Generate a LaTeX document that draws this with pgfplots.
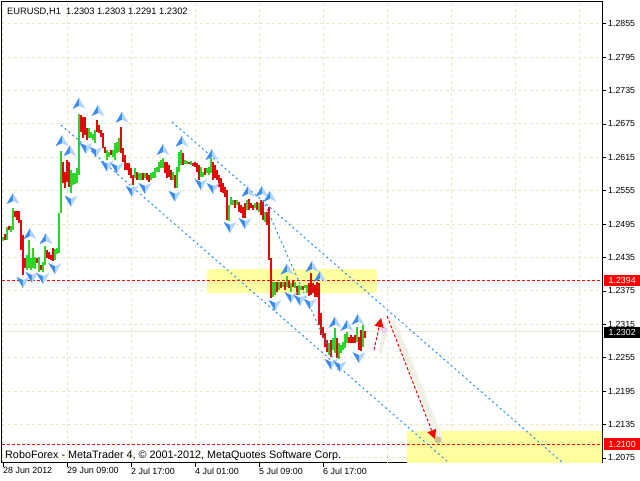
\documentclass[border=0pt]{standalone}
\usepackage{fontspec}
\setmainfont{Liberation Sans}
\usepackage{pgfplots}
\pgfplotsset{compat=1.18}
\usepackage{pgfplotstable}
\usetikzlibrary{arrows.meta}
\definecolor{barG}{RGB}{40,215,40}
\definecolor{barR}{RGB}{225,10,10}
\definecolor{gridc}{RGB}{232,232,195}
\definecolor{ybox}{RGB}{255,255,160}
\definecolor{chan}{RGB}{30,144,255}
\definecolor{fdark}{RGB}{60,140,240}
\definecolor{flight}{RGB}{175,212,255}
\definecolor{bidc}{RGB}{232,232,215}
\definecolor{shad}{RGB}{240,240,228}

\pgfdeclareplotmark{fup}{%
  \pgfsetfillcolor{fdark}%
  \pgfpathmoveto{\pgfqpoint{0pt}{6pt}}%
  \pgfpathlineto{\pgfqpoint{-6.5pt}{-5pt}}%
  \pgfpathlineto{\pgfqpoint{0pt}{-2pt}}%
  \pgfpathclose\pgfusepathqfill
  \pgfsetfillcolor{flight}%
  \pgfpathmoveto{\pgfqpoint{0pt}{6pt}}%
  \pgfpathlineto{\pgfqpoint{6.5pt}{-5pt}}%
  \pgfpathlineto{\pgfqpoint{0pt}{-2pt}}%
  \pgfpathclose\pgfusepathqfill}
\pgfdeclareplotmark{fdn}{%
  \pgfsetfillcolor{fdark}%
  \pgfpathmoveto{\pgfqpoint{0pt}{-6pt}}%
  \pgfpathlineto{\pgfqpoint{-6.5pt}{5pt}}%
  \pgfpathlineto{\pgfqpoint{0pt}{2pt}}%
  \pgfpathclose\pgfusepathqfill
  \pgfsetfillcolor{flight}%
  \pgfpathmoveto{\pgfqpoint{0pt}{-6pt}}%
  \pgfpathlineto{\pgfqpoint{6.5pt}{5pt}}%
  \pgfpathlineto{\pgfqpoint{0pt}{2pt}}%
  \pgfpathclose\pgfusepathqfill}

% up (green) bars: index, low, high
\pgfplotstableread{
x l h
0 1.2465 1.2472
2 1.2467 1.2490
4 1.2481 1.2492
5 1.2485 1.2524
12 1.2413 1.2440
13 1.2417 1.2467
14 1.2413 1.2435
15 1.2417 1.2453
16 1.2415 1.2436
18 1.2409 1.2436
20 1.2409 1.2427
21 1.2422 1.2456
26 1.2431 1.2451
27 1.2442 1.2453
28 1.2444 1.2515
29 1.2515 1.2626
34 1.2551 1.2592
35 1.2565 1.2587
36 1.2567 1.2587
37 1.2569 1.2596
38 1.2583 1.2693
43 1.2650 1.2668
44 1.2650 1.2661
45 1.2646 1.2657
46 1.2641 1.2664
52 1.2610 1.2628
53 1.2616 1.2625
55 1.2616 1.2628
56 1.2610 1.2641
57 1.2623 1.2643
58 1.2625 1.2650
66 1.2578 1.2596
68 1.2574 1.2587
69 1.2574 1.2587
71 1.2578 1.2587
74 1.2574 1.2587
75 1.2578 1.2588
76 1.2578 1.2596
77 1.2588 1.2597
78 1.2588 1.2606
79 1.2596 1.2610
80 1.2596 1.2614
85 1.2574 1.2588
87 1.2560 1.2597
88 1.2588 1.2625
89 1.2601 1.2628
91 1.2603 1.2610
92 1.2603 1.2608
94 1.2601 1.2608
99 1.2580 1.2597
100 1.2580 1.2588
102 1.2587 1.2596
103 1.2583 1.2597
104 1.2587 1.2614
113 1.2500 1.2529
114 1.2529 1.2544
115 1.2529 1.2538
117 1.2529 1.2538
122 1.2520 1.2538
126 1.2524 1.2533
128 1.2517 1.2533
131 1.2499 1.2517
135 1.2364 1.2391
136 1.2368 1.2391
138 1.2377 1.2391
140 1.2382 1.2391
142 1.2382 1.2402
144 1.2373 1.2389
146 1.2380 1.2391
148 1.2368 1.2386
149 1.2377 1.2384
151 1.2380 1.2386
152 1.2371 1.2386
163 1.2260 1.2282
165 1.2269 1.2291
166 1.2264 1.2309
168 1.2253 1.2282
169 1.2264 1.2278
170 1.2269 1.2283
171 1.2273 1.2298
172 1.2282 1.2301
177 1.2283 1.2310
180 1.2274 1.2314
}\upbars

% down (red) bars: index, low, high
\pgfplotstableread{
x l h
1 1.2467 1.2478
3 1.2485 1.2492
6 1.2507 1.2518
7 1.2502 1.2518
8 1.2497 1.2518
9 1.2449 1.2502
10 1.2404 1.2476
11 1.2417 1.2435
17 1.2426 1.2435
19 1.2413 1.2422
22 1.2435 1.2449
23 1.2433 1.2445
24 1.2431 1.2440
25 1.2429 1.2453
30 1.2569 1.2606
31 1.2560 1.2588
32 1.2571 1.2610
33 1.2562 1.2606
39 1.2661 1.2691
40 1.2650 1.2688
41 1.2655 1.2688
42 1.2646 1.2668
47 1.2661 1.2682
48 1.2659 1.2673
49 1.2652 1.2664
50 1.2632 1.2659
51 1.2623 1.2634
54 1.2619 1.2628
59 1.2623 1.2670
60 1.2606 1.2632
61 1.2592 1.2619
62 1.2592 1.2605
63 1.2583 1.2605
64 1.2578 1.2596
65 1.2565 1.2583
67 1.2574 1.2588
70 1.2574 1.2587
72 1.2574 1.2587
73 1.2571 1.2583
81 1.2587 1.2606
82 1.2578 1.2606
83 1.2580 1.2601
84 1.2574 1.2592
86 1.2560 1.2583
90 1.2601 1.2623
93 1.2603 1.2606
95 1.2599 1.2605
96 1.2597 1.2606
97 1.2588 1.2605
98 1.2574 1.2601
101 1.2583 1.2596
105 1.2574 1.2606
106 1.2578 1.2601
107 1.2574 1.2592
108 1.2562 1.2583
109 1.2553 1.2578
110 1.2551 1.2569
111 1.2544 1.2562
112 1.2502 1.2556
116 1.2524 1.2538
118 1.2517 1.2535
119 1.2515 1.2529
120 1.2506 1.2526
121 1.2506 1.2533
123 1.2520 1.2540
124 1.2524 1.2533
125 1.2520 1.2529
127 1.2520 1.2535
129 1.2511 1.2538
130 1.2502 1.2535
132 1.2494 1.2517
133 1.2431 1.2526
134 1.2363 1.2435
137 1.2373 1.2391
139 1.2380 1.2391
141 1.2377 1.2391
143 1.2380 1.2395
145 1.2382 1.2395
147 1.2368 1.2384
150 1.2377 1.2384
153 1.2366 1.2389
154 1.2368 1.2407
155 1.2371 1.2389
156 1.2364 1.2386
157 1.2364 1.2391
158 1.2314 1.2389
159 1.2296 1.2335
160 1.2291 1.2310
161 1.2274 1.2300
162 1.2265 1.2287
164 1.2256 1.2287
167 1.2255 1.2291
173 1.2282 1.2293
174 1.2282 1.2296
175 1.2282 1.2293
176 1.2282 1.2296
178 1.2269 1.2293
179 1.2267 1.2305
181 1.2291 1.2303
}\dnbars

% fractals
\pgfplotstableread{
x y
5 1.2540
13.5 1.2477
21.5 1.2468
29.5 1.2644
33.5 1.2626
38 1.2711
47.5 1.2698
59.5 1.2686
80 1.2628
89.5 1.2643
104.5 1.2619
122.5 1.2553
129.5 1.2553
133.5 1.2544
142 1.2413
154.5 1.2418
158.5 1.2400
166 1.2318
172 1.2312
177.5 1.2323
}\fracup
\pgfplotstableread{
x y
10 1.2391
14.5 1.2400
20 1.2398
26 1.2416
34 1.2537
41.5 1.2632
46.5 1.2625
52 1.2600
57 1.2596
64.5 1.2555
71 1.2560
86 1.2546
99 1.2567
105 1.2560
113.5 1.2490
121 1.2497
136 1.2350
144 1.2364
148.5 1.2359
153.5 1.2352
164 1.2244
168.5 1.2240
178 1.2256
}\fracdn

\begin{document}
\begin{tikzpicture}[x=1pt,y=1pt]
\path[use as bounding box, fill=white] (0,0) rectangle (640,480);
\begin{axis}[
  at={(2pt,17.5pt)}, anchor=south west,
  scale only axis, width=600pt, height=460.5pt,
  xmin=-0.5, xmax=299.5, ymin=1.20668, ymax=1.28940,
  axis line style={black, line width=1pt},
  xtick={0,32,64,96,128,160},
  xticklabels={28 Jun 2012,29 Jun 09:00,2 Jul 17:00,4 Jul 01:00,5 Jul 09:00,6 Jul 17:00},
  extra x ticks={192,224,256,288},
  extra x tick labels={},
  extra x tick style={grid=major, major tick length=0pt},
  ytick={1.2075,1.2135,1.2195,1.2255,1.2315,1.2375,1.2435,1.2495,1.2555,1.2615,1.2675,1.2735,1.2795,1.2855},
  yticklabels={1.2075,1.2135,1.2195,1.2255,1.2315,1.2375,1.2435,1.2495,1.2555,1.2615,1.2675,1.2735,1.2795,1.2855},
  xtick pos=left, ytick pos=right, yticklabel pos=right,
  tick align=outside, major tick length=4pt,
  tick style={black, line width=0.8pt},
  grid=major,
  major grid style={gridc, dash pattern=on 3pt off 3pt, line width=1pt},
  xticklabel style={anchor=north west, inner sep=0pt, xshift=0pt, yshift=-1pt, font=\fontsize{8.9pt}{10pt}\selectfont},
  yticklabel style={anchor=west, inner sep=0pt, xshift=2pt, font=\fontsize{8.8pt}{10pt}\selectfont},
  clip=true,
]
\fill[ybox] (axis cs:102,1.23713) rectangle (axis cs:187,1.24144);
\fill[ybox] (axis cs:202,1.2000) rectangle (axis cs:300,1.21234);
\addplot[bidc, line width=1pt, forget plot] coordinates {(-0.5,1.2302) (299.5,1.2302)};

\addplot[forget plot, draw=none, mark=none,
  error bars/.cd, y dir=plus, y explicit, error mark=none,
  error bar style={draw=barG, line width=1.1pt}]
  table[x=x, y=l, y error expr=\thisrow{h}-\thisrow{l}] {\upbars};
\addplot[forget plot, draw=none, mark=none,
  error bars/.cd, y dir=plus, y explicit, error mark=none,
  error bar style={draw=barR, line width=1.1pt}]
  table[x=x, y=l, y error expr=\thisrow{h}-\thisrow{l}] {\dnbars};

\addplot[red, line width=1pt, dash pattern=on 3pt off 2pt, forget plot] coordinates {(-0.5,1.2394) (299.5,1.2394)};
\addplot[red, line width=1pt, dash pattern=on 3pt off 2pt, forget plot] coordinates {(-0.5,1.2100) (299.5,1.2100)};

\addplot[chan, line width=1pt, dash pattern=on 2pt off 3pt, forget plot] coordinates {(84.5,1.26785) (280,1.20659)};
\addplot[chan, line width=1pt, dash pattern=on 2pt off 3pt, forget plot] coordinates {(29,1.26731) (222.5,1.20677)};
\addplot[chan, line width=1pt, dash pattern=on 2pt off 3pt, forget plot] coordinates {(130,1.25383) (167.5,1.22330)};

\draw[shad, line width=5pt, line cap=round] (axis cs:195,1.23192) -- (axis cs:219,1.21072);
\draw[shad, line width=4pt, line cap=round] (axis cs:188.5,1.22653) -- (axis cs:191.5,1.23048);
\fill[black!25!olive!40!white] (axis cs:217.5,1.21072) circle (3.5pt);
\fill[violet!18!white] (axis cs:190.5,1.23048) circle (3.5pt);
\draw[red, line width=1pt, dash pattern=on 3pt off 2pt, -{Triangle[length=9pt,width=9pt]}] (axis cs:185.5,1.22689) -- (axis cs:189,1.23264);
\draw[red, line width=1pt, dash pattern=on 3pt off 2pt, -{Triangle[length=9pt,width=9pt]}] (axis cs:192,1.23300) -- (axis cs:216,1.21090);

\addplot[only marks, mark=fup, forget plot] table[x=x,y=y] {\fracup};
\addplot[only marks, mark=fdn, forget plot] table[x=x,y=y] {\fracdn};

\coordinate (La) at (axis cs:299.5,1.2394);
\coordinate (Lb) at (axis cs:299.5,1.2100);
\coordinate (Lc) at (axis cs:299.5,1.2302);
\end{axis}
\node[anchor=west, fill=red, text=white, inner sep=0pt, minimum width=36pt, minimum height=11.5pt, font=\fontsize{8.8pt}{10pt}\selectfont] at ([xshift=2pt]La) {1.2394};
\node[anchor=west, fill=red, text=white, inner sep=0pt, minimum width=36pt, minimum height=11.5pt, font=\fontsize{8.8pt}{10pt}\selectfont] at ([xshift=2pt]Lb) {1.2100};
\node[anchor=west, fill=black, text=white, inner sep=0pt, minimum width=36pt, minimum height=11pt, font=\fontsize{8.8pt}{10pt}\selectfont] at ([xshift=2pt,yshift=-1pt]Lc) {1.2302};
\node[anchor=west, inner sep=0pt, font=\fontsize{9.3pt}{11pt}\selectfont] at (7,468.5) {EURUSD,H1\ \ 1.2303 1.2303 1.2291 1.2302};
\node[anchor=west, inner sep=0pt, font=\fontsize{10.8pt}{12pt}\selectfont] at (5,24) {RoboForex - MetaTrader 4, © 2001-2012, MetaQuotes Software Corp.};
\end{tikzpicture}
\end{document}
